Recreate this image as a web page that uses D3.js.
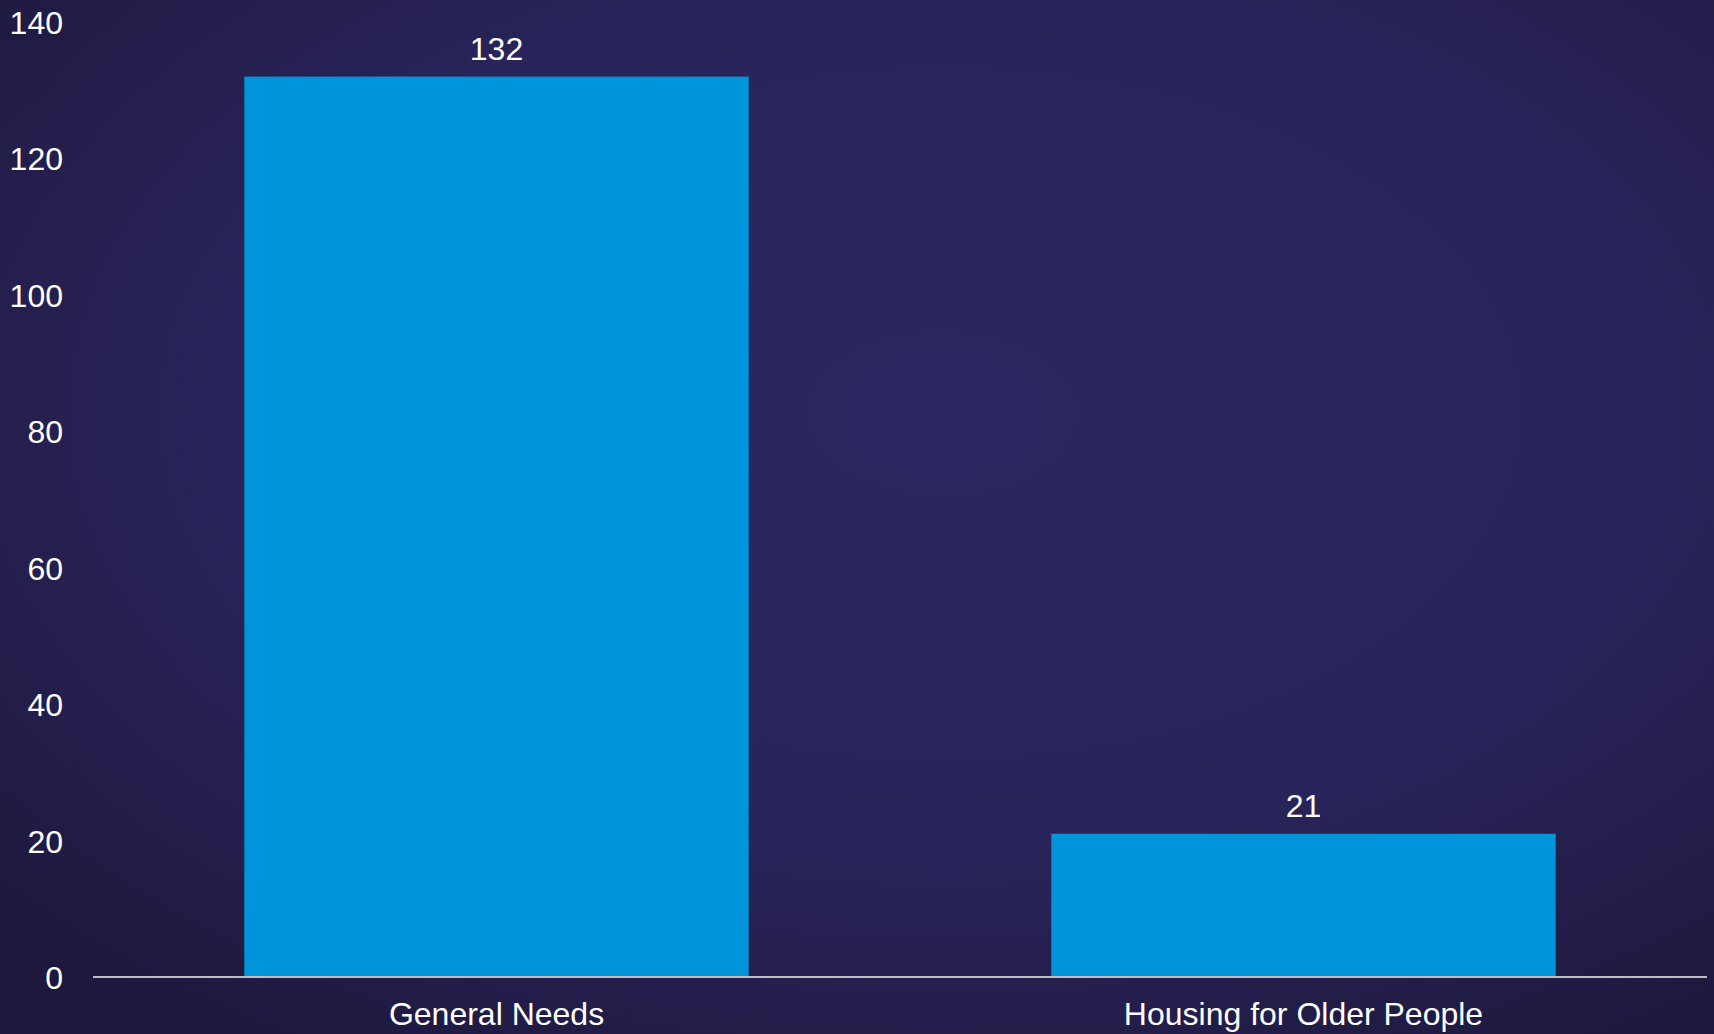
<!DOCTYPE html>
<html>
<head>
<meta charset="utf-8">
<script src="https://cdn.jsdelivr.net/npm/d3@7"></script>
<style>
  html, body { margin: 0; padding: 0; background: #221d48; }
  svg { display: block; }
</style>
</head>
<body>
<script>
// Units by housing type
const categories = ["General Needs", "Housing for Older People"];
const values = [132, 21];
const yTicks = [0, 20, 40, 60, 80, 100, 120, 140];

const W = 1714, H = 1034;
const svg = d3.select("body").append("svg").attr("width", W).attr("height", H);

// Dark navy backdrop with a soft radial vignette
const defs = svg.append("defs");
const grad = defs.append("radialGradient").attr("id", "bg")
  .attr("cx", "55%").attr("cy", "40%").attr("r", "75%");
grad.append("stop").attr("offset", "0%").attr("stop-color", "#2c2762");
grad.append("stop").attr("offset", "55%").attr("stop-color", "#29245a");
grad.append("stop").attr("offset", "100%").attr("stop-color", "#1d183c");
svg.append("rect").attr("width", W).attr("height", H).attr("fill", "url(#bg)");

const x = d3.scaleBand().domain(categories).range([93, 1707])
  .paddingInner(0.375).paddingOuter(0.1875);
const y = d3.scaleLinear().domain([0, 140]).range([977, 22]);

const font = "'Liberation Sans', Arial, sans-serif";

// Bars
svg.append("g").selectAll("rect").data(values).join("rect")
  .attr("x", (d, i) => x(categories[i]))
  .attr("y", d => y(d))
  .attr("width", x.bandwidth())
  .attr("height", d => y(0) - y(d))
  .attr("fill", "#0095da");

// Value labels above bars
svg.append("g").selectAll("text").data(values).join("text")
  .attr("x", (d, i) => x(categories[i]) + x.bandwidth() / 2)
  .attr("y", d => y(d) - 17)
  .attr("text-anchor", "middle")
  .attr("fill", "#ffffff")
  .style("font-family", font).style("font-size", "32px")
  .text(d => d);

// Y axis labels (no axis line)
const yAxis = svg.append("g").attr("transform", "translate(63,0)")
  .call(d3.axisLeft(y).tickValues(yTicks).tickSize(0).tickPadding(0));
yAxis.select(".domain").remove();
yAxis.selectAll("text")
  .attr("fill", "#ffffff")
  .attr("dy", "0.36em")
  .style("font-family", font).style("font-size", "32px");

// X axis: baseline and category labels
const xAxis = svg.append("g").attr("transform", `translate(0,${y(0)})`)
  .call(d3.axisBottom(x).tickSize(0).tickPadding(0));
xAxis.select(".domain").attr("stroke", "#bdbdc6").attr("stroke-width", 2)
  .attr("d", "M93,0H1707");
xAxis.selectAll("text")
  .attr("fill", "#ffffff")
  .attr("y", 48).attr("dy", 0)
  .style("font-family", font).style("font-size", "32px");
</script>
</body>
</html>
